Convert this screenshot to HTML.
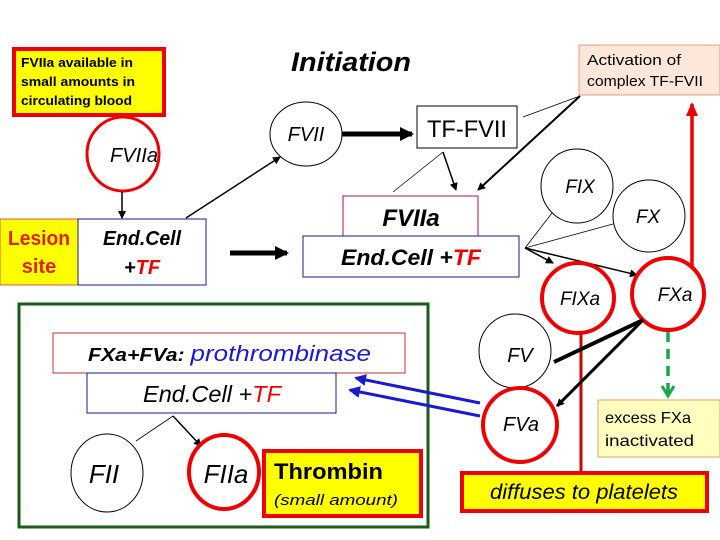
<!DOCTYPE html>
<html><head><meta charset="utf-8"><style>
html,body{margin:0;padding:0;background:#fff}
svg{display:block}
text{font-family:"Liberation Sans","DejaVu Sans",sans-serif}
</style></head><body>
<svg width="720" height="540" viewBox="0 0 720 540" xmlns="http://www.w3.org/2000/svg">
<defs>
<marker id="ab" markerWidth="8" markerHeight="8" refX="7" refY="4" orient="auto" markerUnits="userSpaceOnUse"><path d="M0,0 L8,4 L0,8 z" fill="#000"/></marker>
<marker id="abig" markerWidth="14" markerHeight="14" refX="12" refY="7" orient="auto" markerUnits="userSpaceOnUse"><path d="M0,0 L14,7 L0,14 z" fill="#000"/></marker>
<marker id="ar" markerWidth="14" markerHeight="14" refX="12" refY="7" orient="auto" markerUnits="userSpaceOnUse"><path d="M0,1 L14,7 L0,13 z" fill="#e00"/></marker>
<marker id="abl" markerWidth="12" markerHeight="12" refX="10" refY="6" orient="auto" markerUnits="userSpaceOnUse"><path d="M0,0 L12,6 L0,12 z" fill="#1a1ad0"/></marker>
<marker id="ag" markerWidth="14" markerHeight="14" refX="11" refY="7" orient="auto" markerUnits="userSpaceOnUse"><path d="M1,1 L11,7 L1,13" fill="none" stroke="#1aa64a" stroke-width="3"/></marker>
</defs>

<rect x="14" y="49" width="150" height="66" fill="#ffff00" stroke="#e00" stroke-width="4"/>
<text x="21" y="67" font-size="13" font-weight="bold" textLength="112" lengthAdjust="spacingAndGlyphs">FVIIa available in</text>
<text x="21" y="86" font-size="13" font-weight="bold" textLength="114" lengthAdjust="spacingAndGlyphs">small amounts in</text>
<text x="21" y="105" font-size="13" font-weight="bold" textLength="111" lengthAdjust="spacingAndGlyphs">circulating blood</text>

<text x="351" y="71" font-size="27" font-weight="bold" font-style="italic" text-anchor="middle" textLength="120" lengthAdjust="spacingAndGlyphs">Initiation</text>

<rect x="579" y="45" width="141" height="50" fill="#fde6da" stroke="#e89a80" stroke-width="1"/>
<text x="587" y="65" font-size="15" textLength="94" lengthAdjust="spacingAndGlyphs">Activation of</text>
<text x="587" y="86" font-size="15" textLength="116" lengthAdjust="spacingAndGlyphs">complex TF-FVII</text>

<ellipse cx="123" cy="154" rx="36" ry="37" fill="#fff" stroke="#e00" stroke-width="3"/>
<text x="134" y="162" font-size="20" font-style="italic" text-anchor="middle" textLength="48" lengthAdjust="spacingAndGlyphs">FVIIa</text>
<line x1="122" y1="192" x2="122" y2="218" stroke="#000" stroke-width="1.5" marker-end="url(#ab)"/>

<rect x="0" y="219" width="78" height="66" fill="#ffff00" stroke="#d55" stroke-width="1"/>
<text x="39" y="245" font-size="20" font-weight="bold" fill="#d22" text-anchor="middle" textLength="62" lengthAdjust="spacingAndGlyphs">Lesion</text>
<text x="39" y="273" font-size="20" font-weight="bold" fill="#d22" text-anchor="middle">site</text>
<rect x="78" y="219" width="128" height="66" fill="#fff" stroke="#1a1a8c" stroke-width="1"/>
<text x="142" y="245" font-size="20" font-weight="bold" font-style="italic" text-anchor="middle" textLength="78" lengthAdjust="spacingAndGlyphs">End.Cell</text>
<text x="142" y="274" font-size="20" font-weight="bold" font-style="italic" text-anchor="middle">+<tspan fill="#e00">TF</tspan></text>

<ellipse cx="306" cy="134" rx="36" ry="32" fill="#fff" stroke="#000" stroke-width="1"/>
<text x="306" y="141" font-size="20" font-style="italic" text-anchor="middle">FVII</text>
<line x1="186" y1="218" x2="280" y2="157" stroke="#000" stroke-width="1.5" marker-end="url(#ab)"/>
<line x1="342" y1="134" x2="412" y2="134" stroke="#000" stroke-width="5" marker-end="url(#abig)"/>
<line x1="230" y1="253" x2="287" y2="253" stroke="#000" stroke-width="5" marker-end="url(#abig)"/>

<rect x="417" y="106" width="100" height="42" fill="#fff" stroke="#000" stroke-width="1"/>
<text x="467" y="137" font-size="24" text-anchor="middle" textLength="80" lengthAdjust="spacingAndGlyphs">TF-FVII</text>
<line x1="393" y1="192" x2="443" y2="152" stroke="#000" stroke-width="0.8"/>
<line x1="443" y1="152" x2="456" y2="190" stroke="#000" stroke-width="1.5" marker-end="url(#ab)"/>
<line x1="523" y1="117" x2="580" y2="96" stroke="#000" stroke-width="0.8"/>
<line x1="580" y1="96" x2="478" y2="190" stroke="#000" stroke-width="2" marker-end="url(#ab)"/>

<rect x="343" y="196" width="135" height="40" fill="#fff" stroke="#b01040" stroke-width="1"/>
<text x="411" y="226" font-size="24" font-weight="bold" font-style="italic" text-anchor="middle">FVIIa</text>
<rect x="303" y="236" width="216" height="41" fill="#fff" stroke="#1a1a8c" stroke-width="1"/>
<text x="411" y="265" font-size="22" font-weight="bold" font-style="italic" text-anchor="middle" textLength="140" lengthAdjust="spacingAndGlyphs">End.Cell +<tspan fill="#e00">TF</tspan></text>

<ellipse cx="577" cy="186" rx="36" ry="37" fill="#fff" stroke="#000" stroke-width="1"/>
<text x="580" y="193" font-size="19" font-style="italic" text-anchor="middle">FIX</text>
<ellipse cx="649" cy="216" rx="36" ry="36" fill="#fff" stroke="#000" stroke-width="1"/>
<text x="648" y="223" font-size="19" font-style="italic" text-anchor="middle">FX</text>
<line x1="525" y1="248" x2="552" y2="213" stroke="#000" stroke-width="0.8"/>
<line x1="525" y1="248" x2="613" y2="224" stroke="#000" stroke-width="0.8"/>
<line x1="525" y1="248" x2="553" y2="263" stroke="#000" stroke-width="1.5" marker-end="url(#ab)"/>
<line x1="525" y1="248" x2="637" y2="275" stroke="#000" stroke-width="1.5" marker-end="url(#ab)"/>

<line x1="692" y1="290" x2="692" y2="104" stroke="#e00" stroke-width="3.5" marker-end="url(#ar)"/>

<line x1="581" y1="333" x2="581" y2="474" stroke="#c00" stroke-width="3"/>
<ellipse cx="578" cy="298" rx="36" ry="35" fill="#fff" stroke="#e00" stroke-width="4"/>
<text x="580" y="305" font-size="19" font-style="italic" text-anchor="middle">FIXa</text>
<ellipse cx="668" cy="294" rx="36" ry="36" fill="#fff" stroke="#e00" stroke-width="4"/>
<text x="675" y="301" font-size="19" font-style="italic" text-anchor="middle">FXa</text>

<line x1="668" y1="332" x2="668" y2="396" stroke="#1aa64a" stroke-width="3.5" stroke-dasharray="10,7" marker-end="url(#ag)"/>

<rect x="598" y="400" width="122" height="57" fill="#ffffc0" stroke="#e8a060" stroke-width="1"/>
<text x="605" y="423" font-size="16" textLength="86" lengthAdjust="spacingAndGlyphs">excess FXa</text>
<text x="605" y="446" font-size="16" textLength="89" lengthAdjust="spacingAndGlyphs">inactivated</text>

<ellipse cx="515" cy="351" rx="36" ry="37" fill="#fff" stroke="#000" stroke-width="1"/>
<text x="520" y="362" font-size="20" font-style="italic" text-anchor="middle">FV</text>
<ellipse cx="520" cy="425" rx="37" ry="37" fill="#fff" stroke="#e00" stroke-width="4"/>
<text x="521" y="431" font-size="20" font-style="italic" text-anchor="middle">FVa</text>
<line x1="643" y1="320" x2="554" y2="362" stroke="#000" stroke-width="4"/>
<line x1="643" y1="320" x2="557" y2="406" stroke="#000" stroke-width="3" marker-end="url(#ab)"/>

<rect x="462" y="473" width="245" height="38" fill="#ffff00" stroke="#e00" stroke-width="4"/>
<text x="584" y="499" font-size="21" font-style="italic" text-anchor="middle" textLength="188" lengthAdjust="spacingAndGlyphs">diffuses to platelets</text>

<rect x="19" y="304" width="409" height="223" fill="none" stroke="#1a5a1a" stroke-width="3"/>
<rect x="53" y="333" width="352" height="40" fill="#fff" stroke="#c03030" stroke-width="1"/>
<text x="88" y="361" font-size="18" font-weight="bold" font-style="italic" textLength="283" lengthAdjust="spacingAndGlyphs">FXa+FVa: <tspan fill="#1a1ad0" font-size="22" font-weight="normal">prothrombinase</tspan></text>
<rect x="87" y="373" width="249" height="40" fill="#fff" stroke="#1a1a8c" stroke-width="1"/>
<text x="212" y="402" font-size="23" font-style="italic" text-anchor="middle" textLength="138" lengthAdjust="spacingAndGlyphs">End.Cell +<tspan fill="#e00">TF</tspan></text>
<line x1="173" y1="416" x2="136" y2="441" stroke="#000" stroke-width="0.8"/>
<line x1="173" y1="416" x2="201" y2="446" stroke="#000" stroke-width="1.5" marker-end="url(#ab)"/>

<ellipse cx="107" cy="473" rx="36" ry="39" fill="#fff" stroke="#000" stroke-width="1"/>
<text x="104" y="483" font-size="26" font-style="italic" text-anchor="middle">FII</text>
<ellipse cx="224" cy="472" rx="35" ry="37" fill="#fff" stroke="#e00" stroke-width="4"/>
<text x="226" y="483" font-size="26" font-style="italic" text-anchor="middle">FIIa</text>
<rect x="264" y="451" width="157" height="65" fill="#ffff00" stroke="#e00" stroke-width="4"/>
<text x="274" y="479" font-size="22" font-weight="bold" textLength="109" lengthAdjust="spacingAndGlyphs">Thrombin</text>
<text x="274" y="505" font-size="15" font-style="italic" textLength="124" lengthAdjust="spacingAndGlyphs">(small amount)</text>

<line x1="480" y1="403" x2="356" y2="378" stroke="#1a1ad0" stroke-width="3" marker-end="url(#abl)"/>
<line x1="480" y1="416" x2="350" y2="390" stroke="#1a1ad0" stroke-width="3" marker-end="url(#abl)"/>
</svg>
</body></html>
